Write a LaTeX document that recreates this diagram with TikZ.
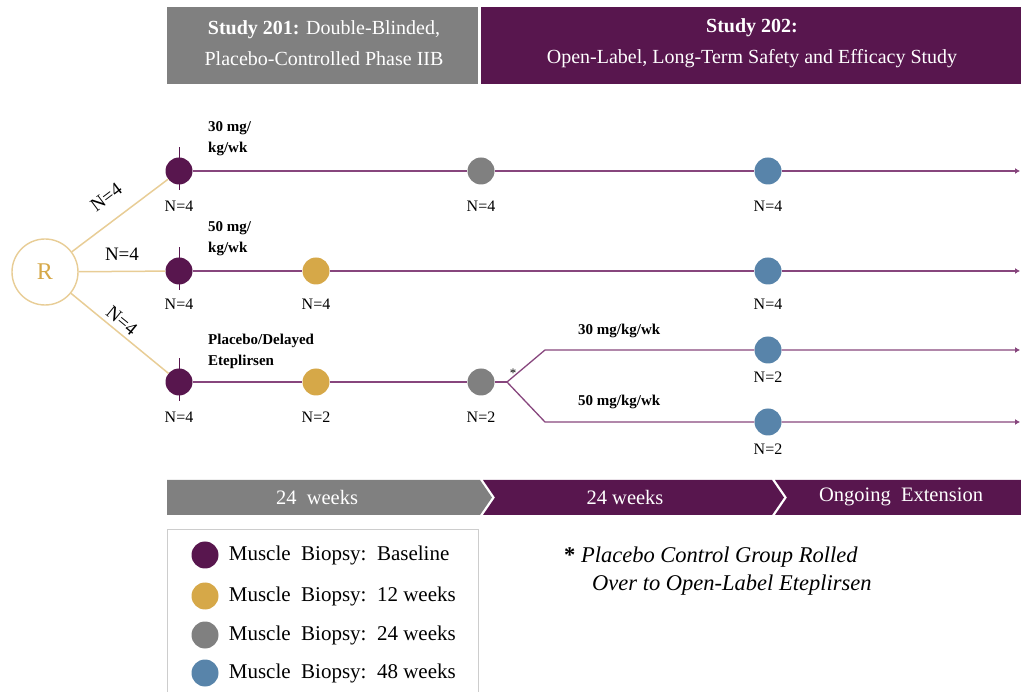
\documentclass[tikz,border=0pt]{standalone}
\usepackage{fontspec}
\setmainfont{Liberation Serif}
\usetikzlibrary{positioning, arrows.meta, backgrounds}
\definecolor{plum}{RGB}{88,22,78}
\definecolor{plumline}{RGB}{135,70,125}
\definecolor{tan}{RGB}{214,168,72}
\definecolor{tanline}{RGB}{232,205,150}
\definecolor{gry}{RGB}{128,128,128}
\definecolor{steel}{RGB}{88,132,170}
\definecolor{boxline}{RGB}{205,205,205}
\tikzset{
    dotnode/.style = {circle, inner sep=0pt, minimum size=27pt},
    rnode/.style = {circle, draw=tanline, line width=1.4pt, fill=white, minimum size=66pt, inner sep=0pt,
      text=tan, font=\fontsize{24}{24}\selectfont},
    headtext/.style = {text=white, align=center, inner sep=0pt, font=\fontsize{20}{31}\selectfont},
    nlabel/.style = {inner sep=0pt, font=\fontsize{16}{16}\selectfont},
    bignlabel/.style = {text=black, inner sep=0pt, font=\fontsize{19}{19}\selectfont},
    doselabel/.style = {anchor=west, align=left, inner sep=0pt, font=\bfseries\fontsize{15}{21}\selectfont},
    weektext/.style = {text=white, inner sep=0pt, font=\fontsize{20.5}{20.5}\selectfont},
    legendtext/.style = {anchor=west, inner sep=0pt, font=\fontsize{21}{21}\selectfont},
    notetext/.style = {anchor=west, inner sep=0pt, font=\itshape\fontsize{22.5}{22.5}\selectfont},
    arm/.style = {plumline, line width=1.3pt},
    armend/.style = {arm, -{Latex[length=5pt, width=6pt]}},
    rline/.style = {tanline, line width=1.5pt},
    tick/.style = {plum, line width=1pt}
}

\begin{document}
\begin{tikzpicture}[x=1pt, y=-1pt]
\useasboundingbox (0,0) rectangle (1021,692);

% study headers
\fill[gry] (167,7) rectangle (478,84);
\fill[plum] (481,7) rectangle (1021,84);
\node [headtext, name=h201] at (324,43) {\textbf{Study 201:} Double-Blinded,\\Placebo-Controlled Phase IIB};
\node [headtext, name=h202] at (752,43) {\textbf{Study 202:}\\Open-Label, Long-Term Safety and Efficacy Study};

% randomisation
\node [rnode, name=R] at (45,272) {R};

% baseline biopsies
\node [dotnode, fill=plum, name=b1] at (179,171) {};
\node [dotnode, fill=plum, name=b2] at (179,271) {};
\node [dotnode, fill=plum, name=b3] at (179,382) {};

\draw[rline] (R) -- (b1) node[bignlabel, pos=0.5, sloped, above=16pt] {N=4};
\draw[rline] (R) -- (b2) node[bignlabel, pos=0.5, above=10pt] {N=4};
\draw[rline] (R) -- (b3) node[bignlabel, pos=0.45, sloped, above=4pt] {N=4};

% 30 mg/kg/wk arm
\node [dotnode, fill=gry, name=g1] at (481,171) {};
\node [dotnode, fill=steel, name=s1] at (768,171) {};
\coordinate (e1) at (1020,171);
\draw[armend] (b1) -- (g1) -- (s1) -- (e1);
\node [doselabel, name=d1] at (208,139) {30 mg/\\kg/wk};
\node [nlabel, below=16pt of b1, name=nb1] {N=4};
\node [nlabel, below=16pt of g1, name=ng1] {N=4};
\node [nlabel, below=16pt of s1, name=ns1] {N=4};

% 50 mg/kg/wk arm
\node [dotnode, fill=tan, name=t2] at (316,271) {};
\node [dotnode, fill=steel, name=s2] at (768,271) {};
\coordinate (e2) at (1020,271);
\draw[armend] (b2) -- (t2) -- (s2) -- (e2);
\node [doselabel, name=d2] at (208,239) {50 mg/\\kg/wk};
\node [nlabel, below=14pt of b2, name=nb2] {N=4};
\node [nlabel, below=14pt of t2, name=nt2] {N=4};
\node [nlabel, below=14pt of s2, name=ns2] {N=4};

% placebo arm
\node [dotnode, fill=tan, name=t3] at (316,382) {};
\node [dotnode, fill=gry, name=g3] at (481,382) {};
\coordinate (split) at (507,382);
\coordinate (up) at (545,350);
\coordinate (dn) at (545,422);
\node [dotnode, fill=steel, name=s3] at (768,350) {};
\node [dotnode, fill=steel, name=s4] at (768,422) {};
\coordinate (e3) at (1020,350);
\coordinate (e4) at (1020,422);
\draw[arm] (b3) -- (t3) -- (g3) -- (split);
\draw[armend] (split) -- (up) -- (s3) -- (e3);
\draw[armend] (split) -- (dn) -- (s4) -- (e4);
\node [doselabel, name=d3] at (208,351) {Placebo/Delayed\\Eteplirsen};
\node [doselabel, name=d4] at (578,331) {30 mg/kg/wk};
\node [doselabel, name=d5] at (578,402) {50 mg/kg/wk};
\node [nlabel, font=\fontsize{13}{13}\selectfont, name=ast] at (513,373) {*};
\node [nlabel, below=16pt of b3, name=nb3] {N=4};
\node [nlabel, below=16pt of t3, name=nt3] {N=2};
\node [nlabel, below=16pt of g3, name=ng3] {N=2};
\node [nlabel, below=8pt of s3, name=ns3] {N=2};
\node [nlabel, below=8pt of s4, name=ns4] {N=2};

% baseline ticks
\begin{scope}[on background layer]
\draw[tick] ([yshift=10pt]b1.north) -- ([yshift=-5pt]b1.south);
\draw[tick] ([yshift=10pt]b2.north) -- ([yshift=-5pt]b2.south);
\draw[tick] ([yshift=10pt]b3.north) -- ([yshift=-5pt]b3.south);
\end{scope}

% timeline
\fill[gry] (167,480) -- (480,480) -- (492,497.5) -- (480,515) -- (167,515) -- cycle;
\fill[plum] (483,480) -- (772,480) -- (784,497.5) -- (772,515) -- (483,515) -- (495,497.5) -- cycle;
\fill[plum] (775,480) -- (1021,480) -- (1021,515) -- (775,515) -- (787,497.5) -- cycle;
\node [weektext, name=w1] at (317,497) {24\ \ weeks};
\node [weektext, name=w2] at (625,497) {24 weeks};
\node [weektext, name=w3] at (901,497) {Ongoing\ \ Extension};

% legend
\draw[boxline, line width=1pt] (167,692) -- (167,530) -- (478,530) -- (478,692);
\node [dotnode, fill=plum, name=l1] at (205,555) {};
\node [dotnode, fill=tan, name=l2] at (205,596) {};
\node [dotnode, fill=gry, name=l3] at (205,635) {};
\node [dotnode, fill=steel, name=l4] at (205,673) {};
\node [legendtext, right=10pt of l1] {Muscle\ \ Biopsy:\ \ Baseline};
\node [legendtext, right=10pt of l2] {Muscle\ \ Biopsy:\ \ 12 weeks};
\node [legendtext, right=10pt of l3] {Muscle\ \ Biopsy:\ \ 24 weeks};
\node [legendtext, right=10pt of l4] {Muscle\ \ Biopsy:\ \ 48 weeks};

% footnote
\node [notetext, name=note1] at (564,557) {\textbf{\upshape *} Placebo Control Group Rolled};
\node [notetext, name=note2] at (592,585) {Over to Open-Label Eteplirsen};
\end{tikzpicture}
\end{document}
